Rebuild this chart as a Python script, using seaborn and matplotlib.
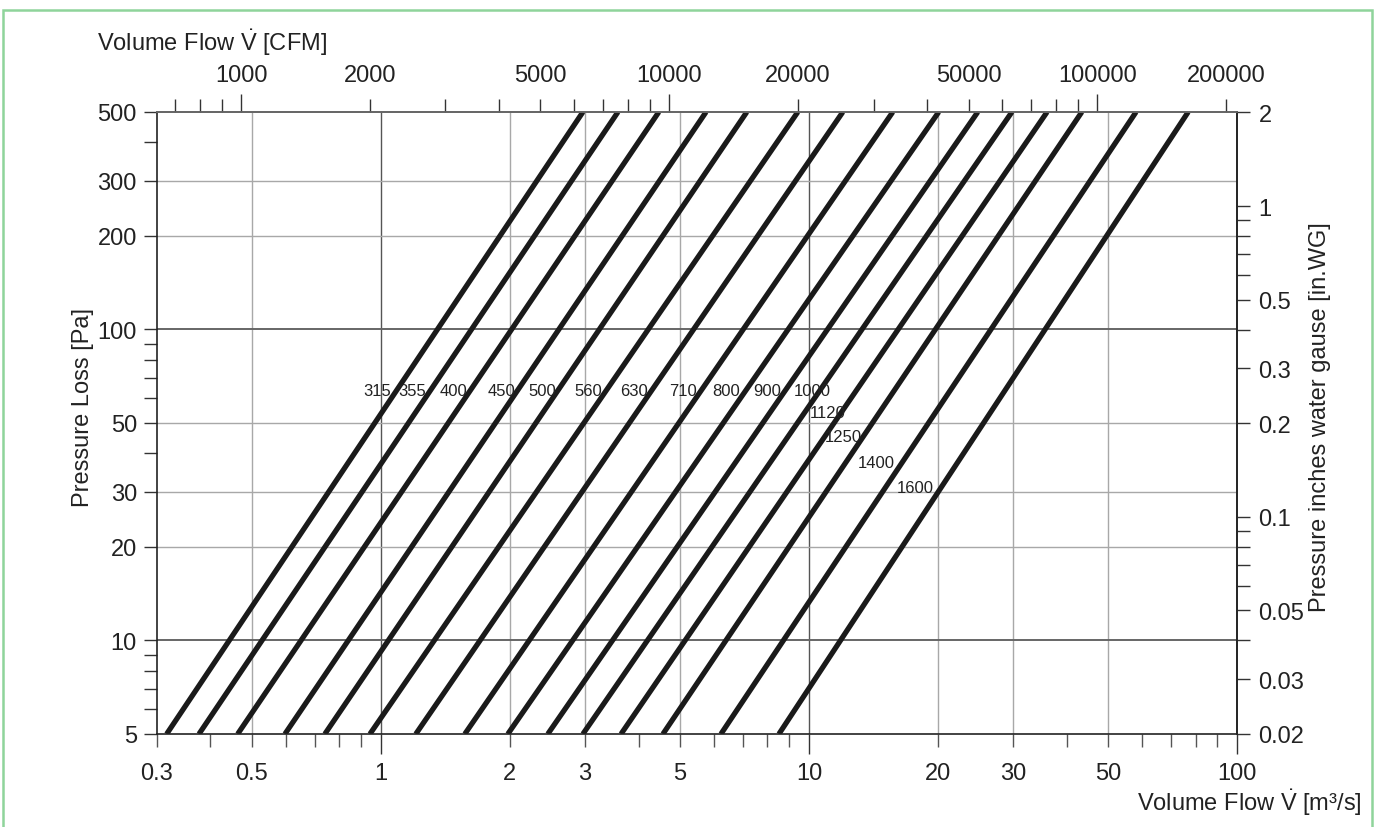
import matplotlib

matplotlib.use("Agg")
import matplotlib.pyplot as plt
import numpy as np
import pandas as pd
import seaborn as sns
from matplotlib.patches import Rectangle
from matplotlib.ticker import FixedLocator, FuncFormatter, NullFormatter

# ───────────────────────────────────────────────────────────────
# Data
# ───────────────────────────────────────────────────────────────
DIAMETERS = [315, 355, 400, 450, 500, 560, 630, 710, 800, 900, 1000, 1120, 1250, 1400, 1600]
FLOW_AT_5PA = [0.316, 0.376, 0.463, 0.597, 0.740, 0.943, 1.207, 1.571, 1.98, 2.455,
               2.965, 3.64, 4.56, 6.23, 8.51]
FLOW_AT_500PA = [2.965, 3.58, 4.46, 5.75, 7.16, 9.42, 12.0, 15.7, 20.1, 24.8,
                 29.8, 36.0, 43.4, 58.1, 76.9]
PRESSURE_ENDS = [5, 500]
LABEL_PRESSURE = [63.4, 63.4, 63.4, 63.4, 63.4, 63.4, 63.4, 63.4, 63.4, 63.4,
                  63.4, 54.1, 45.1, 37.3, 31.0]

X_DECADES = [1, 10, 100]
X_OTHER = [0.3, 0.4, 0.5, 0.6, 0.7, 0.8, 0.9, 2, 3, 4, 5, 6, 7, 8, 9,
           20, 30, 40, 50, 60, 70, 80, 90]
X_LABELS = [0.3, 0.5, 2, 3, 5, 20, 30, 50]
Y_MAJOR = [5, 10, 20, 30, 50, 100, 200, 300, 500]
Y_MINOR = [6, 7, 8, 9, 40, 60, 70, 80, 90, 400]
CFM_DECADES = [1000, 10000, 100000]
CFM_OTHER = [700, 800, 900, 2000, 3000, 4000, 5000, 6000, 7000, 8000, 9000,
             20000, 30000, 40000, 50000, 60000, 70000, 80000, 90000, 200000]
CFM_LABELS = [2000, 5000, 20000, 50000, 200000]
INWG_MAJOR = [0.02, 0.03, 0.05, 0.1, 0.2, 0.3, 0.5, 1, 2]
INWG_MINOR = [0.04, 0.06, 0.07, 0.08, 0.09, 0.4, 0.6, 0.7, 0.8, 0.9]

M3S_TO_CFM = 2118.88
PA_PER_INWG = 249.09

# label shift relative to the line (pixels)
LABEL_DX = [-5, -4, -3, -2, -1, -4, -3, -4, -5, -4, 11, 4, -1, -7, -7]

W, H = 1377, 828
INK = "#1a1a1a"
TEXT = "#222222"
TICK_COL = "#333333"


def fmt_num(v, _=None):
    return f"{v:g}"


def main():
    sns.set_theme(style="white")
    plt.rcParams["font.family"] = ["Liberation Sans", "DejaVu Sans"]
    plt.rcParams["mathtext.fontset"] = "custom"
    plt.rcParams["mathtext.rm"] = "Liberation Sans"
    plt.rcParams["mathtext.it"] = "Liberation Sans"
    plt.rcParams["mathtext.bf"] = "Liberation Sans"

    rows = []
    for d, q5, q500 in zip(DIAMETERS, FLOW_AT_5PA, FLOW_AT_500PA):
        rows.append({"dn": d, "flow": q5, "pressure": PRESSURE_ENDS[0]})
        rows.append({"dn": d, "flow": q500, "pressure": PRESSURE_ENDS[1]})
    df = pd.DataFrame(rows)

    fig = plt.figure(figsize=(W / 100, H / 100), dpi=100)
    ax = fig.add_axes([157 / W, 1 - 735 / H, (1237 - 157) / W, (735 - 113) / H])

    sns.lineplot(data=df, x="flow", y="pressure", units="dn", estimator=None,
                 color=INK, lw=3.8, sort=False, legend=False, ax=ax,
                 solid_capstyle="butt")
    ax.set_xscale("log")
    ax.set_yscale("log")
    ax.set_xlim(0.3, 100)
    ax.set_ylim(5, 500)

    # grid
    for v in [0.5, 2, 3, 5, 20, 30, 50]:
        ax.axvline(v, color="#a8a8a8", lw=1.0, zorder=0)
    for v in [1, 10]:
        ax.axvline(v, color="#555555", lw=1.0, zorder=0)
    for v in [20, 30, 50, 200, 300]:
        ax.axhline(v, color="#a8a8a8", lw=1.0, zorder=0)
    for v in [10, 100]:
        ax.axhline(v, color="#666666", lw=1.4, zorder=0)

    # bottom / left axes
    ax.xaxis.set_major_locator(FixedLocator(X_DECADES))
    ax.xaxis.set_minor_locator(FixedLocator(X_OTHER))
    ax.xaxis.set_major_formatter(FuncFormatter(fmt_num))
    ax.xaxis.set_minor_formatter(FuncFormatter(
        lambda v, _: fmt_num(v) if any(np.isclose(v, X_LABELS)) else ""))
    ax.yaxis.set_major_locator(FixedLocator(Y_MAJOR))
    ax.yaxis.set_minor_locator(FixedLocator(Y_MINOR))
    ax.yaxis.set_major_formatter(FuncFormatter(fmt_num))
    ax.yaxis.set_minor_formatter(NullFormatter())
    ax.tick_params(axis="x", which="major", direction="out", length=14.4, width=1,
                   pad=6, labelsize=17, color=TICK_COL, labelcolor=TEXT,
                   bottom=True, top=False)
    ax.tick_params(axis="x", which="minor", direction="out", length=9.5, width=1,
                   pad=11, labelsize=17, color="#555555", labelcolor=TEXT,
                   bottom=True, top=False)
    ax.tick_params(axis="y", which="both", direction="out", length=9.5, width=1,
                   pad=5, labelsize=17, color=TICK_COL, labelcolor=TEXT,
                   left=True, right=False)
    for side in ["left", "bottom", "right"]:
        ax.spines[side].set_color(TEXT)
        ax.spines[side].set_linewidth(1.2)
    ax.spines["top"].set_color("#666666")
    ax.set_xlabel("")
    ax.set_ylabel("")

    # right axis: inches water gauge
    ax_r = ax.twinx()
    ax_r.set_yscale("log")
    ax_r.set_ylim(0.01999, 500 / PA_PER_INWG)
    ax_r.yaxis.set_major_locator(FixedLocator(INWG_MAJOR))
    ax_r.yaxis.set_minor_locator(FixedLocator(INWG_MINOR))
    ax_r.yaxis.set_major_formatter(FuncFormatter(fmt_num))
    ax_r.yaxis.set_minor_formatter(NullFormatter())
    ax_r.tick_params(axis="y", which="both", direction="out", length=9.5, width=1,
                     pad=6, labelsize=17, color=TICK_COL, labelcolor=TEXT)
    for side in ["left", "bottom", "top"]:
        ax_r.spines[side].set_visible(False)
    ax_r.spines["right"].set_color(TEXT)
    ax_r.spines["right"].set_linewidth(1.2)
    ax_r.grid(False)

    # top axis: CFM
    ax_t = ax.twiny()
    ax_t.set_xscale("log")
    ax_t.set_xlim(0.3 * M3S_TO_CFM, 100 * M3S_TO_CFM)
    ax_t.xaxis.set_major_locator(FixedLocator(CFM_DECADES))
    ax_t.xaxis.set_minor_locator(FixedLocator(CFM_OTHER))
    ax_t.xaxis.set_major_formatter(FuncFormatter(fmt_num))
    ax_t.xaxis.set_minor_formatter(FuncFormatter(
        lambda v, _: fmt_num(v) if any(np.isclose(v, CFM_LABELS)) else ""))
    ax_t.tick_params(axis="x", which="major", direction="out", length=13, width=1,
                     pad=5.5, labelsize=17, color=TICK_COL, labelcolor=TEXT)
    ax_t.tick_params(axis="x", which="minor", direction="out", length=9.5, width=1,
                     pad=9, labelsize=17, color=TICK_COL, labelcolor=TEXT)
    for side in ["left", "bottom", "right"]:
        ax_t.spines[side].set_visible(False)
    ax_t.spines["top"].set_color("#666666")
    ax_t.grid(False)

    # diameter labels next to the lines
    for d, q5, q500, p, dx in zip(DIAMETERS, FLOW_AT_5PA, FLOW_AT_500PA,
                                  LABEL_PRESSURE, LABEL_DX):
        frac = (np.log10(p) - np.log10(PRESSURE_ENDS[0])) / (
            np.log10(PRESSURE_ENDS[1]) - np.log10(PRESSURE_ENDS[0]))
        xq = 10 ** (np.log10(q5) + frac * (np.log10(q500) - np.log10(q5)))
        ax.annotate(str(d), xy=(xq, p), xytext=(dx, 0), textcoords="offset pixels",
                    ha="right", va="center", fontsize=12, color=TEXT)

    # axis titles
    vdot = r"$\dot{\mathrm{V}}$"
    fig.text(97 / W, 1 - 43 / H, f"Volume Flow {vdot} [CFM]", fontsize=17,
             ha="left", va="center", color=TEXT)
    fig.text(1362 / W, 1 - 803 / H, f"Volume Flow {vdot} [m\u00b3/s]", fontsize=17,
             ha="right", va="center", color=TEXT)
    fig.text(83 / W, 1 - 408 / H, "Pressure Loss [Pa]", fontsize=17, rotation=90,
             ha="center", va="center", color=TEXT)
    fig.text(1320 / W, 1 - 417 / H, "Pressure inches water gause [in.WG]",
             fontsize=17, rotation=90, ha="center", va="center", color=TEXT)

    # green frame
    fig.patches.append(Rectangle((3 / W, -0.02), (1372 - 3) / W, 1.02 - 11 / H,
                                 transform=fig.transFigure, fill=False,
                                 ec="#8fd49b", lw=1.8))

    fig.savefig("out.png", dpi=100)
    plt.close(fig)


if __name__ == "__main__":
    main()
